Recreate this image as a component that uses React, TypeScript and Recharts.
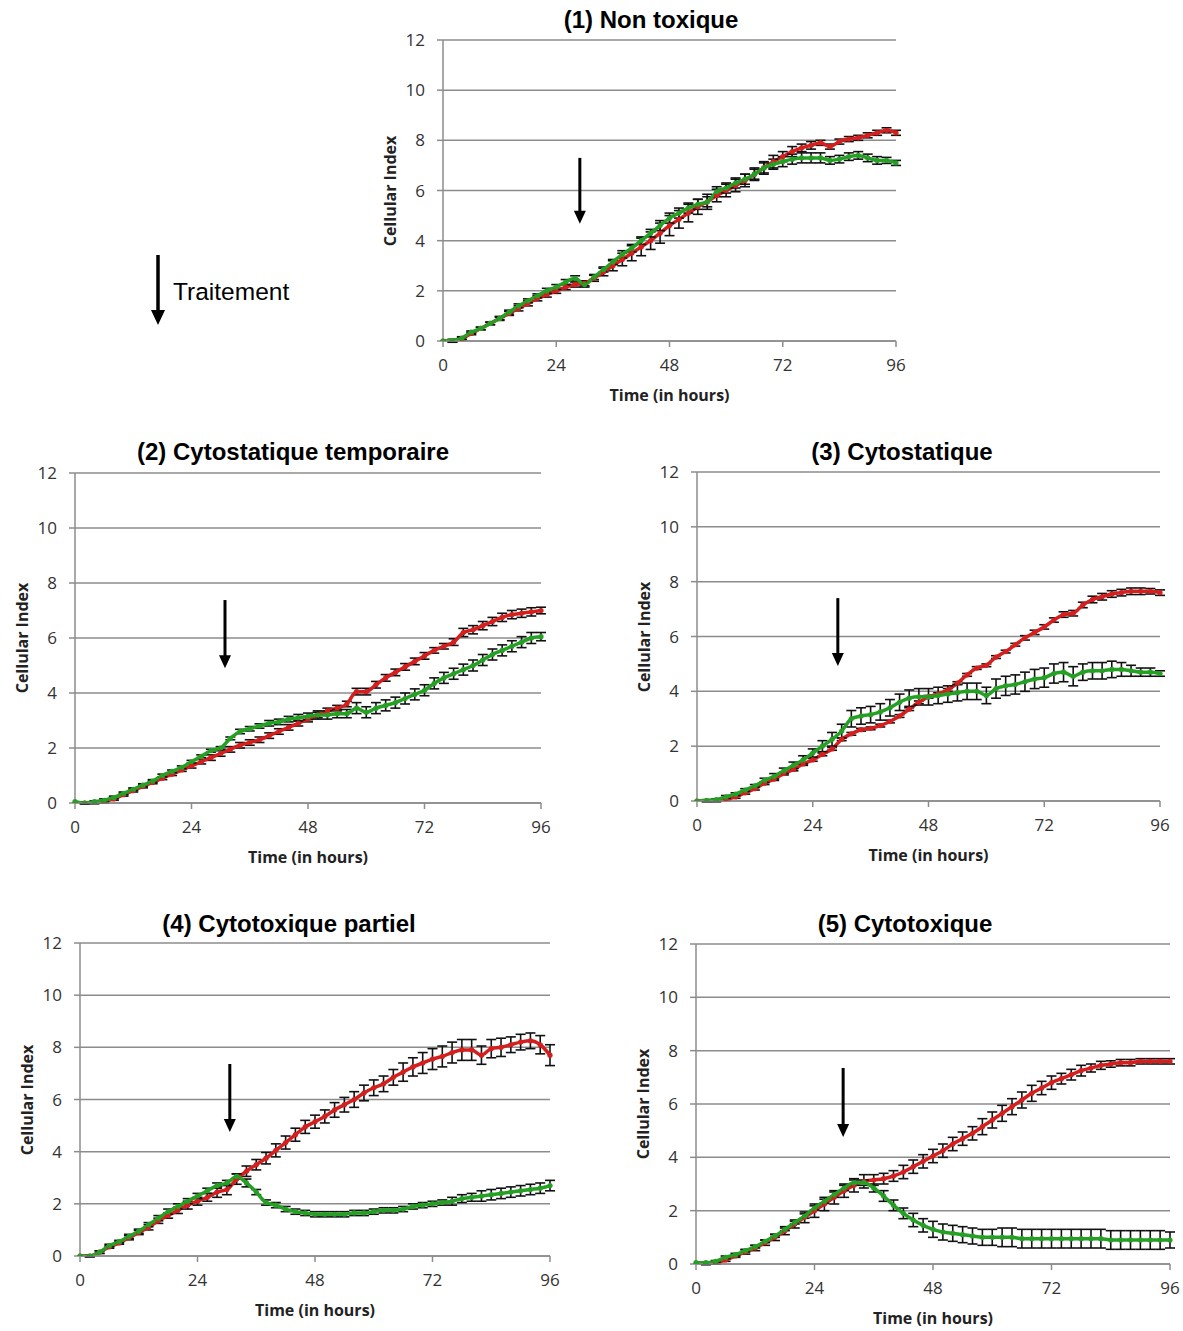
import React from 'react';
import {
  CartesianGrid,
  ErrorBar,
  Line,
  LineChart,
  ReferenceLine,
  XAxis,
  YAxis,
} from 'recharts';

const RED = '#d41f1f';
const GREEN = '#25a025';
const GRID = '#8c8c8c';
const TICK_FONT = '"Open Sans", sans-serif';

const TIME = [
  0, 2, 4, 6, 8, 10, 12, 14, 16, 18, 20, 22, 24, 26, 28, 30, 32, 34, 36, 38, 40, 42, 44, 46,
  48, 50, 52, 54, 56, 58, 60, 62, 64, 66, 68, 70, 72, 74, 76, 78, 80, 82, 84, 86, 88, 90, 92, 94, 96,
];
const X_TICKS = [0, 24, 48, 72, 96];
const Y_TICKS = [0, 2, 4, 6, 8, 10, 12];

// (1) Non toxique
const P1_RED = [
  0, 0, 0.1, 0.3, 0.5, 0.7, 0.9, 1.1, 1.3, 1.5, 1.7, 1.85, 2.0, 2.15, 2.25, 2.3, 2.5, 2.75,
  3.0, 3.25, 3.5, 3.75, 4.0, 4.3, 4.6, 4.85, 5.1, 5.35, 5.55, 5.8, 6.0, 6.2, 6.4, 6.65, 6.9, 7.15,
  7.35, 7.55, 7.7, 7.8, 7.9, 7.75, 7.95, 8.05, 8.1, 8.2, 8.3, 8.4, 8.3,
];
const P1_GREEN = [
  0, 0.02, 0.12, 0.35, 0.5, 0.7, 0.9, 1.15, 1.4, 1.6, 1.8, 2.0, 2.15, 2.35, 2.5, 2.25, 2.55, 2.85,
  3.15, 3.45, 3.7, 4.0, 4.3, 4.6, 4.9, 5.1, 5.3, 5.45, 5.55, 5.95, 6.1, 6.3, 6.45, 6.65, 6.9, 7.05,
  7.15, 7.25, 7.3, 7.3, 7.3, 7.2, 7.25, 7.35, 7.4, 7.3, 7.2, 7.2, 7.1,
];
const P1_RED_ERR = [
  0, 0.05, 0.05, 0.05, 0.05, 0.05, 0.08, 0.08, 0.1, 0.1, 0.1, 0.1, 0.1, 0.1, 0.1, 0.1, 0.12, 0.15,
  0.2, 0.25, 0.3, 0.35, 0.35, 0.4, 0.4, 0.35, 0.35, 0.3, 0.3, 0.25, 0.25, 0.25, 0.25, 0.25, 0.25, 0.25,
  0.2, 0.2, 0.15, 0.15, 0.1, 0.1, 0.1, 0.1, 0.1, 0.1, 0.1, 0.1, 0.1,
];
const P1_GREEN_ERR = [
  0, 0.05, 0.05, 0.05, 0.05, 0.05, 0.05, 0.08, 0.08, 0.08, 0.08, 0.1, 0.1, 0.1, 0.1, 0.1, 0.1, 0.1,
  0.1, 0.15, 0.15, 0.15, 0.15, 0.2, 0.2, 0.2, 0.2, 0.2, 0.2, 0.2, 0.2, 0.2, 0.2, 0.2, 0.2, 0.2,
  0.2, 0.2, 0.2, 0.2, 0.2, 0.15, 0.15, 0.15, 0.15, 0.15, 0.15, 0.12, 0.1,
];

// (2) Cytostatique temporaire
const P2_RED = [
  0, 0, 0, 0.05, 0.15, 0.3, 0.45, 0.6, 0.75, 0.9, 1.05, 1.2, 1.35, 1.5, 1.65, 1.8, 1.95, 2.1,
  2.2, 2.3, 2.45, 2.6, 2.75, 2.9, 3.05, 3.2, 3.35, 3.45, 3.6, 4.05, 4.05, 4.3, 4.55, 4.75, 4.95, 5.15,
  5.35, 5.55, 5.7, 5.85, 6.2, 6.3, 6.45, 6.6, 6.75, 6.85, 6.9, 6.95, 7.0,
];
const P2_GREEN = [
  0.05, 0, 0.05, 0.1, 0.2, 0.35, 0.5, 0.65, 0.8, 1.0, 1.15, 1.3, 1.5, 1.7, 1.9, 2.0, 2.35, 2.6,
  2.7, 2.8, 2.9, 2.95, 3.05, 3.1, 3.15, 3.2, 3.2, 3.25, 3.25, 3.45, 3.3, 3.45, 3.55, 3.65, 3.8, 3.95,
  4.1, 4.35, 4.55, 4.7, 4.85, 5.0, 5.2, 5.4, 5.55, 5.7, 5.85, 6.0, 6.05,
];
const P2_RED_ERR = [
  0, 0.03, 0.03, 0.05, 0.05, 0.05, 0.05, 0.05, 0.05, 0.05, 0.05, 0.05, 0.08, 0.08, 0.1, 0.1, 0.1, 0.1,
  0.1, 0.1, 0.1, 0.1, 0.1, 0.1, 0.1, 0.1, 0.1, 0.1, 0.1, 0.12, 0.12, 0.12, 0.12, 0.12, 0.12, 0.12,
  0.12, 0.1, 0.1, 0.12, 0.15, 0.15, 0.15, 0.15, 0.15, 0.15, 0.15, 0.15, 0.12,
];
const P2_GREEN_ERR = [
  0, 0.03, 0.03, 0.05, 0.05, 0.05, 0.05, 0.05, 0.05, 0.05, 0.05, 0.05, 0.05, 0.05, 0.05, 0.05, 0.05, 0.08,
  0.08, 0.08, 0.1, 0.1, 0.1, 0.12, 0.12, 0.15, 0.15, 0.15, 0.15, 0.2, 0.2, 0.2, 0.2, 0.2, 0.2, 0.2,
  0.2, 0.2, 0.2, 0.2, 0.2, 0.2, 0.2, 0.2, 0.2, 0.2, 0.2, 0.2, 0.15,
];

// (3) Cytostatique
const P3_RED = [
  0, 0, 0, 0.05, 0.15, 0.3, 0.45, 0.65, 0.8, 1.0, 1.15, 1.35, 1.5, 1.7, 1.9, 2.25, 2.45, 2.6,
  2.65, 2.75, 2.9, 3.1, 3.35, 3.6, 3.8, 3.9, 4.05, 4.3, 4.6, 4.85, 4.95, 5.25, 5.45, 5.7, 5.95, 6.15,
  6.35, 6.6, 6.8, 6.85, 7.15, 7.35, 7.45, 7.55, 7.6, 7.65, 7.65, 7.65, 7.6,
];
const P3_GREEN = [
  0, 0.02, 0.05, 0.15, 0.25, 0.4, 0.55, 0.75, 0.9, 1.1, 1.3, 1.5, 1.75, 2.0, 2.25, 2.55, 3.0, 3.1,
  3.15, 3.25, 3.4, 3.6, 3.75, 3.8, 3.8, 3.85, 3.9, 3.95, 4.0, 4.0, 3.85, 4.1, 4.2, 4.25, 4.35, 4.45,
  4.5, 4.65, 4.7, 4.55, 4.7, 4.75, 4.75, 4.8, 4.8, 4.75, 4.7, 4.7, 4.65,
];
const P3_RED_ERR = [
  0, 0.03, 0.03, 0.03, 0.05, 0.05, 0.05, 0.05, 0.05, 0.05, 0.05, 0.05, 0.05, 0.05, 0.05, 0.05, 0.05, 0.05,
  0.05, 0.05, 0.05, 0.05, 0.05, 0.05, 0.05, 0.05, 0.05, 0.05, 0.05, 0.05, 0.05, 0.05, 0.05, 0.05, 0.08, 0.08,
  0.08, 0.08, 0.1, 0.1, 0.1, 0.12, 0.12, 0.12, 0.12, 0.12, 0.12, 0.1, 0.1,
];
const P3_GREEN_ERR = [
  0, 0.03, 0.03, 0.05, 0.05, 0.05, 0.05, 0.08, 0.1, 0.1, 0.12, 0.15, 0.15, 0.2, 0.25, 0.25, 0.3, 0.3,
  0.3, 0.3, 0.3, 0.3, 0.3, 0.3, 0.3, 0.3, 0.3, 0.3, 0.3, 0.3, 0.3, 0.35, 0.35, 0.35, 0.35, 0.35,
  0.35, 0.35, 0.35, 0.35, 0.3, 0.3, 0.3, 0.3, 0.25, 0.2, 0.15, 0.15, 0.1,
];

// (4) Cytotoxique partiel
const P4_RED = [
  0, 0, 0.15, 0.35, 0.5, 0.7, 0.9, 1.1, 1.35, 1.55, 1.75, 1.95, 2.1, 2.25, 2.45, 2.55, 2.95, 3.25,
  3.5, 3.75, 4.05, 4.35, 4.65, 4.95, 5.15, 5.35, 5.6, 5.8, 6.0, 6.25, 6.45, 6.6, 6.85, 7.05, 7.25, 7.4,
  7.55, 7.65, 7.8, 7.9, 7.9, 7.7, 7.95, 8.0, 8.1, 8.2, 8.25, 8.1, 7.7,
];
const P4_GREEN = [
  0, 0, 0.15, 0.4, 0.55, 0.75, 0.95, 1.2, 1.45, 1.7, 1.9, 2.1, 2.3, 2.5, 2.7, 2.8, 3.05, 2.8,
  2.45, 2.05, 1.95, 1.8, 1.7, 1.65, 1.6, 1.6, 1.6, 1.6, 1.65, 1.65, 1.7, 1.75, 1.75, 1.8, 1.9, 1.95,
  2.0, 2.05, 2.1, 2.2, 2.25, 2.3, 2.35, 2.4, 2.45, 2.5, 2.55, 2.6, 2.7,
];
const P4_RED_ERR = [
  0, 0.03, 0.05, 0.05, 0.05, 0.08, 0.08, 0.1, 0.1, 0.1, 0.12, 0.15, 0.15, 0.15, 0.2, 0.2, 0.2, 0.2,
  0.2, 0.22, 0.25, 0.25, 0.25, 0.25, 0.25, 0.25, 0.28, 0.28, 0.3, 0.3, 0.3, 0.3, 0.3, 0.35, 0.35, 0.4,
  0.4, 0.4, 0.4, 0.4, 0.4, 0.35, 0.35, 0.35, 0.3, 0.3, 0.3, 0.35, 0.4,
];
const P4_GREEN_ERR = [
  0, 0.03, 0.05, 0.05, 0.05, 0.08, 0.08, 0.08, 0.1, 0.1, 0.1, 0.1, 0.1, 0.1, 0.1, 0.1, 0.1, 0.15,
  0.1, 0.1, 0.1, 0.1, 0.1, 0.1, 0.1, 0.1, 0.1, 0.1, 0.1, 0.1, 0.1, 0.1, 0.1, 0.1, 0.1, 0.1,
  0.1, 0.1, 0.15, 0.15, 0.15, 0.2, 0.2, 0.2, 0.2, 0.2, 0.2, 0.2, 0.2,
];

// (5) Cytotoxique
const P5_RED = [
  0, 0, 0.05, 0.15, 0.3, 0.45, 0.6, 0.8, 1.0, 1.25, 1.5, 1.75, 2.0, 2.25, 2.5, 2.75, 2.95, 3.1,
  3.15, 3.2, 3.3, 3.45, 3.65, 3.85, 4.05, 4.25, 4.5, 4.7, 4.9, 5.15, 5.4, 5.65, 5.9, 6.15, 6.4, 6.6,
  6.8, 6.95, 7.1, 7.25, 7.35, 7.45, 7.5, 7.55, 7.55, 7.6, 7.6, 7.6, 7.6,
];
const P5_GREEN = [
  0.05, 0.05, 0.1, 0.25, 0.35, 0.5, 0.65, 0.85, 1.05, 1.3, 1.55, 1.8, 2.1, 2.35, 2.6, 2.85, 3.05, 3.05,
  2.85, 2.55, 2.2, 1.9, 1.65, 1.45, 1.3, 1.2, 1.15, 1.1, 1.05, 1.0, 1.0, 1.0, 1.0, 0.95, 0.95, 0.95,
  0.95, 0.95, 0.95, 0.95, 0.95, 0.95, 0.9, 0.9, 0.9, 0.9, 0.9, 0.9, 0.9,
];
const P5_RED_ERR = [
  0, 0.03, 0.05, 0.05, 0.05, 0.08, 0.1, 0.1, 0.12, 0.15, 0.15, 0.2, 0.25, 0.25, 0.25, 0.25, 0.25, 0.25,
  0.2, 0.2, 0.2, 0.25, 0.25, 0.25, 0.25, 0.25, 0.25, 0.25, 0.25, 0.3, 0.3, 0.3, 0.3, 0.3, 0.3, 0.25,
  0.25, 0.2, 0.2, 0.2, 0.15, 0.15, 0.12, 0.12, 0.12, 0.1, 0.1, 0.1, 0.1,
];
const P5_GREEN_ERR = [
  0, 0.03, 0.03, 0.05, 0.05, 0.05, 0.05, 0.05, 0.05, 0.05, 0.05, 0.08, 0.08, 0.08, 0.1, 0.1, 0.1, 0.1,
  0.15, 0.2, 0.2, 0.2, 0.25, 0.25, 0.3, 0.3, 0.3, 0.3, 0.3, 0.3, 0.3, 0.35, 0.35, 0.35, 0.35, 0.35,
  0.35, 0.35, 0.35, 0.35, 0.35, 0.35, 0.35, 0.35, 0.35, 0.35, 0.35, 0.35, 0.3,
];

interface PanelSpec {
  title: string;
  red: number[];
  green: number[];
  redErr: number[];
  greenErr: number[];
  // treatment arrow, in data units
  arrowX: number;
  arrowTop: number;
  arrowTip: number;
  // plot-area box on the page, and title centre
  left: number;
  top: number;
  width: number;
  height: number;
  titleX: number;
  titleY: number;
}

const PANELS: PanelSpec[] = [
  {
    title: '(1) Non toxique', red: P1_RED, green: P1_GREEN, redErr: P1_RED_ERR, greenErr: P1_GREEN_ERR,
    arrowX: 29, arrowTop: 7.3, arrowTip: 4.67,
    left: 443, top: 40, width: 453, height: 301, titleX: 651, titleY: 20,
  },
  {
    title: '(2) Cytostatique temporaire', red: P2_RED, green: P2_GREEN, redErr: P2_RED_ERR, greenErr: P2_GREEN_ERR,
    arrowX: 30.9, arrowTop: 7.38, arrowTip: 4.9,
    left: 75, top: 473, width: 466, height: 330, titleX: 293, titleY: 452,
  },
  {
    title: '(3) Cytostatique', red: P3_RED, green: P3_GREEN, redErr: P3_RED_ERR, greenErr: P3_GREEN_ERR,
    arrowX: 29.2, arrowTop: 7.4, arrowTip: 4.92,
    left: 697, top: 472, width: 463, height: 329, titleX: 902, titleY: 452,
  },
  {
    title: '(4) Cytotoxique partiel', red: P4_RED, green: P4_GREEN, redErr: P4_RED_ERR, greenErr: P4_GREEN_ERR,
    arrowX: 30.6, arrowTop: 7.36, arrowTip: 4.75,
    left: 80, top: 943, width: 470, height: 313, titleX: 289, titleY: 924,
  },
  {
    title: '(5) Cytotoxique', red: P5_RED, green: P5_GREEN, redErr: P5_RED_ERR, greenErr: P5_GREEN_ERR,
    arrowX: 29.8, arrowTop: 7.35, arrowTip: 4.76,
    left: 696, top: 944, width: 474, height: 320, titleX: 905, titleY: 924,
  },
];

const ArrowShape = (props: any) => {
  const { x1, y1, x2, y2 } = props;
  const head = 13;
  return (
    <g>
      <line x1={x1} y1={y1} x2={x2} y2={y2 - head + 1} stroke="#000" strokeWidth={3} />
      <polygon points={`${x2 - 6},${y2 - head} ${x2 + 6},${y2 - head} ${x2},${y2}`} fill="#000" />
    </g>
  );
};

const PAD_LEFT = 60;
const PAD_TOP = 16;
const PAD_RIGHT = 20;
const X_AXIS_H = 44;

const Panel: React.FC<{ spec: PanelSpec }> = ({ spec }) => {
  const data = TIME.map((t, i) => ({
    t,
    red: spec.red[i],
    green: spec.green[i],
    redErr: spec.redErr[i],
    greenErr: spec.greenErr[i],
  }));

  return (
    <>
      <div style={{ position: 'absolute', left: spec.left - PAD_LEFT, top: spec.top - PAD_TOP }}>
        <LineChart
          width={spec.width + PAD_LEFT + PAD_RIGHT}
          height={spec.height + PAD_TOP + X_AXIS_H}
          data={data}
          margin={{ top: PAD_TOP, right: PAD_RIGHT, left: 0, bottom: 0 }}
        >
          <CartesianGrid stroke={GRID} strokeWidth={1.5} vertical={false} />
          <XAxis
            dataKey="t"
            type="number"
            domain={[0, 96]}
            ticks={X_TICKS}
            height={X_AXIS_H}
            tickSize={6}
            tickMargin={12}
            tick={{ fontSize: 17, fill: '#333', fontFamily: TICK_FONT }}
            tickLine={{ stroke: GRID, strokeWidth: 1.5 }}
            axisLine={{ stroke: GRID, strokeWidth: 1.5 }}
          />
          <YAxis
            type="number"
            domain={[0, 12]}
            ticks={Y_TICKS}
            width={PAD_LEFT}
            allowDataOverflow
            tickSize={6}
            tickMargin={12}
            tick={{ fontSize: 17, fill: '#333', fontFamily: TICK_FONT }}
            tickLine={{ stroke: GRID, strokeWidth: 1.5 }}
            axisLine={{ stroke: GRID, strokeWidth: 1.5 }}
          />
          <Line
            type="monotone"
            dataKey="red"
            stroke={RED}
            strokeWidth={3.5}
            dot={{ r: 2.6, fill: RED, stroke: RED, strokeWidth: 0 }}
            isAnimationActive={false}
          >
            <ErrorBar dataKey="redErr" width={5} stroke="#111" strokeWidth={1.6} direction="y" />
          </Line>
          <Line
            type="monotone"
            dataKey="green"
            stroke={GREEN}
            strokeWidth={3.5}
            dot={{ r: 2.6, fill: GREEN, stroke: GREEN, strokeWidth: 0 }}
            isAnimationActive={false}
          >
            <ErrorBar dataKey="greenErr" width={5} stroke="#111" strokeWidth={1.6} direction="y" />
          </Line>
          <ReferenceLine
            segment={[
              { x: spec.arrowX, y: spec.arrowTop },
              { x: spec.arrowX, y: spec.arrowTip },
            ]}
            shape={ArrowShape}
          />
        </LineChart>
      </div>
      <div
        style={{
          position: 'absolute', left: spec.titleX, top: spec.titleY, transform: 'translate(-50%, -50%)',
          whiteSpace: 'nowrap', fontFamily: '"Liberation Sans", Arial, sans-serif', fontWeight: 700,
          fontSize: 24, color: '#000',
        }}
      >
        {spec.title}
      </div>
      <div
        style={{
          position: 'absolute', left: spec.left - 53, top: spec.top + spec.height / 2,
          transform: 'translate(-50%, -50%) rotate(-90deg)', whiteSpace: 'nowrap',
          fontFamily: TICK_FONT, fontWeight: 700, fontSize: 16, color: '#222',
        }}
      >
        Cellular Index
      </div>
      <div
        style={{
          position: 'absolute', left: spec.left + spec.width / 2, top: spec.top + spec.height + 54,
          transform: 'translate(-50%, -50%)', whiteSpace: 'nowrap',
          fontFamily: TICK_FONT, fontWeight: 700, fontSize: 16, color: '#222',
        }}
      >
        Time (in hours)
      </div>
    </>
  );
};

export default function App() {
  return (
    <div style={{ position: 'absolute', left: 0, top: 0, width: 1183, height: 1331, background: '#fff', overflow: 'hidden' }}>
      {PANELS.map((p) => (
        <Panel key={p.title} spec={p} />
      ))}
      {/* Legend: treatment arrow */}
      <svg style={{ position: 'absolute', left: 148, top: 252 }} width={22} height={76}>
        <line x1={10} y1={3} x2={10} y2={60} stroke="#000" strokeWidth={3.5} />
        <polygon points="3,58 17,58 10,73" fill="#000" />
      </svg>
      <div
        style={{
          position: 'absolute', left: 173, top: 292, transform: 'translateY(-50%)',
          fontFamily: '"Liberation Sans", Arial, sans-serif', fontSize: 24.5, color: '#000',
        }}
      >
        Traitement
      </div>
    </div>
  );
}
